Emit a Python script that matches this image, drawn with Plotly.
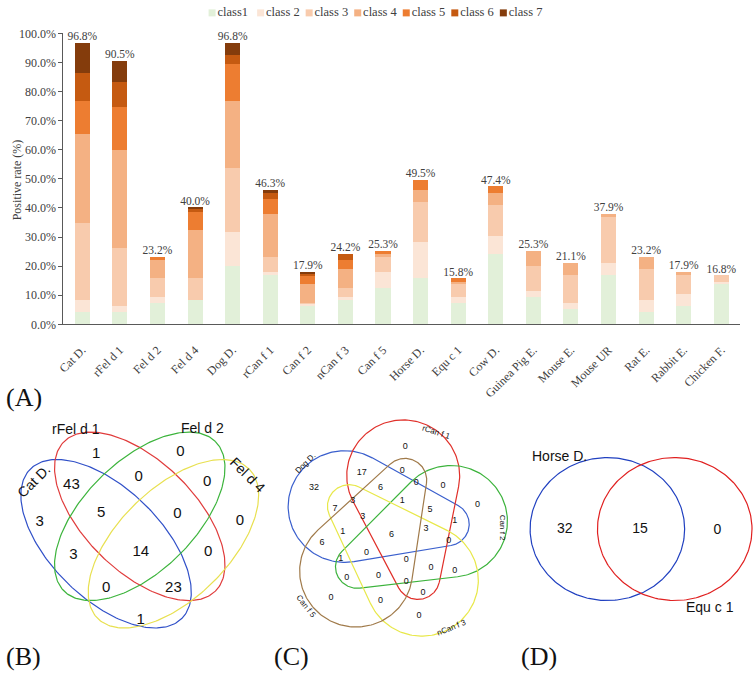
import numpy as np
import plotly.graph_objects as go

# ---------------- data: panel A ----------------
categories = ["Cat D.", "rFel d 1", "Fel d 2", "Fel d 4", "Dog D.", "rCan f 1", "Can f 2",
              "nCan f 3", "Can f 5", "Horse D.", "Equ c 1", "Cow D.", "Guinea Pig E.",
              "Mouse E.", "Mouse UR", "Rat E.", "Rabbit E.", "Chicken F."]
class_names = ["class1", "class 2", "class 3", "class 4", "class 5", "class 6", "class 7"]
class1 = [4.2, 4.2, 7.4, 8.4, 20.0, 17.0, 6.3, 8.4, 12.6, 15.8, 7.4, 24.2, 9.5, 5.3, 16.8, 4.2, 6.3, 13.7]
class2 = [4.2, 2.1, 2.1, 0.0, 11.6, 0.9, 0.7, 1.1, 5.3, 12.6, 2.1, 6.3, 2.1, 2.1, 4.3, 4.2, 4.2, 1.0]
class3 = [26.3, 20.0, 6.3, 7.4, 22.1, 5.3, 0.4, 3.1, 5.3, 13.7, 4.2, 10.6, 8.4, 9.4, 15.7, 10.5, 6.3, 2.1]
class4 = [30.6, 33.7, 6.3, 16.8, 23.1, 14.7, 6.3, 6.3, 1.0, 4.2, 1.0, 4.2, 5.3, 4.3, 1.1, 4.3, 1.1, 0.0]
class5 = [11.5, 14.7, 1.1, 6.0, 12.7, 5.3, 3.1, 3.2, 1.1, 3.2, 1.1, 2.1, 0, 0, 0, 0, 0, 0]
class6 = [9.5, 8.5, 0, 0.9, 3.1, 2.1, 0.6, 2.1, 0, 0, 0, 0, 0, 0, 0, 0, 0, 0]
class7 = [10.5, 7.3, 0, 0.5, 4.2, 1.0, 0.5, 0, 0, 0, 0, 0, 0, 0, 0, 0, 0, 0]
totals = [96.8, 90.5, 23.2, 40.0, 96.8, 46.3, 17.9, 24.2, 25.3, 49.5, 15.8, 47.4, 25.3, 21.1, 37.9, 23.2, 17.9, 16.8]
y_ticks = [0, 10, 20, 30, 40, 50, 60, 70, 80, 90, 100]

# ---------------- data: Venn panels ----------------
venn_b_sets = ["Cat D.", "rFel d 1", "Fel d 2", "Fel d 4"]
venn_b_counts = [1, 0, 43, 0, 0, 3, 5, 0, 0, 3, 14, 0, 0, 23, 1]
venn_c_sets = ["Dog D.", "rCan f 1", "Can f 2", "nCan f 3", "Can f 5"]
venn_c_counts = [0, 17, 0, 32, 6, 0, 0, 0, 3, 7, 1, 5, 3, 1, 3, 1, 6, 6, 0, 1, 0, 0, 0, 0, 0, 0, 0, 0, 0, 0, 0]
venn_d_sets = ["Horse D.", "Equ c 1"]
venn_d_counts = [32, 15, 0]

# ---------------- styling / layout ----------------
W, H = 753, 682
SERIF = "Liberation Serif"
SANS = "Liberation Sans"
bar_colors = ["#e2f0d9", "#fbe5d6", "#f8cbad", "#f4b183", "#ed7d31", "#c55a11", "#843c0c"]
TXT = "#404040"


def fx(px):
    return px / W


def fy(py):
    return 1 - py / H


fig = go.Figure()
series = [class1, class2, class3, class4, class5, class6, class7]
for name, vals, col in zip(class_names, series, bar_colors):
    fig.add_trace(go.Bar(x=categories, y=vals, name=name, marker=dict(color=col, line=dict(width=0)),
                         width=0.4, showlegend=False, xaxis="x", yaxis="y"))
fig.add_trace(go.Scatter(x=categories, y=totals, mode="text", text=[f"{t:.1f}%" for t in totals],
                         textposition="top center", textfont=dict(family=SERIF, size=11.5, color=TXT),
                         showlegend=False, xaxis="x", yaxis="y", cliponaxis=False, hoverinfo="skip"))

# custom legend (pixel overlay axis)
leg_x0, leg_dx, leg_y = 207, 49, 6
leg_xs = [leg_x0 + i * leg_dx for i in range(len(class_names))]
fig.add_trace(go.Scatter(x=leg_xs, y=[leg_y] * len(leg_xs), mode="markers+text", text=class_names,
                         textposition="middle right",
                         marker=dict(symbol="square", size=7, color=bar_colors),
                         textfont=dict(family=SERIF, size=12.5, color=TXT),
                         showlegend=False, xaxis="x2", yaxis="y2", cliponaxis=False, hoverinfo="skip"))


def ellipse(cx, cy, a, b, phi_deg, n=240):
    t = np.linspace(0, 2 * np.pi, n)
    p = np.deg2rad(phi_deg)
    x = cx + a * np.cos(t) * np.cos(p) - b * np.sin(t) * np.sin(p)
    y = cy + a * np.cos(t) * np.sin(p) + b * np.sin(t) * np.cos(p)
    return x, y


def two_circle_hull(c1, r1, c2, r2, n=120):
    """Outline of the convex hull of two circles (a tapered blob)."""
    c1 = np.asarray(c1, float)
    c2 = np.asarray(c2, float)
    d = c2 - c1
    D = np.hypot(*d)
    pe = np.arctan2(d[1], d[0])
    beta = np.arccos((r1 - r2) / D)
    a2 = np.linspace(pe - beta, pe + beta, n)
    a1 = np.linspace(pe + beta, pe + 2 * np.pi - beta, n)
    xs = np.concatenate([c2[0] + r2 * np.cos(a2), c1[0] + r1 * np.cos(a1), [c2[0] + r2 * np.cos(a2[0])]])
    ys = np.concatenate([c2[1] + r2 * np.sin(a2), c1[1] + r1 * np.sin(a1), [c2[1] + r2 * np.sin(a2[0])]])
    return xs, ys


def add_curve(x, y, color, width=1.2):
    fig.add_trace(go.Scatter(x=x, y=y, mode="lines", line=dict(color=color, width=width),
                             showlegend=False, hoverinfo="skip", xaxis="x2", yaxis="y2"))


def add_counts(pos, counts, size):
    fig.add_trace(go.Scatter(x=[p[0] for p in pos], y=[p[1] for p in pos], mode="text",
                             text=[str(c) for c in counts],
                             textfont=dict(family=SANS, size=size, color="#111111"),
                             showlegend=False, hoverinfo="skip", xaxis="x2", yaxis="y2"))


# ---- panel B (4-set Venn) ----
b_colors = ["#3050c8", "#e03c3c", "#3cb43c", "#e8e050"]
b_shape = [(100, 548, 108, 56, 45), (134, 520, 108, 56, 45), (134, 520, 108, 56, -45), (168, 548, 108, 56, -45)]
for (cx, cy, a, b, ph), col in zip(b_shape, b_colors):
    add_curve(*ellipse(cx, cy, a, b, ph), col)
b_pos = [(90, 457), (175, 455), (65, 488), (133, 480), (202, 485), (33, 526), (95, 517), (172, 518),
         (235, 525), (67, 560), (135, 557), (203, 557), (100, 593), (168, 593), (135, 626)]
add_counts(b_pos, venn_b_counts, 15)
b_label_pos = [(27, 484, -45), (70, 431, 0), (197, 430, 0), (243, 478, 45)]

# ---- panel C (5-set Venn) ----
c_colors = ["#3a5fcd", "#e0302a", "#3cb33c", "#e8e84a", "#a07a4a"]
c_center = (392, 535)
for k, col in enumerate(c_colors):
    t1 = np.deg2rad(-154 + 72 * k)
    t2 = np.deg2rad(-7.5 + 72 * k)
    big = (c_center[0] + 57 * np.cos(t1), c_center[1] + 57 * np.sin(t1))
    small = (c_center[0] + 53 * np.cos(t2), c_center[1] + 53 * np.sin(t2))
    add_curve(*two_circle_hull(big, 57, small, 22), col)
c_pos = [(402, 449), (358, 476), (399, 473), (310, 491), (377, 491), (413, 486), (440, 489), (475, 508),
         (349, 504), (331, 512), (399, 504), (427, 513), (359, 520), (452, 525), (423, 533), (339, 536),
         (388, 539), (318, 547), (446, 545), (337, 563), (363, 557), (403, 564), (428, 572), (452, 576),
         (343, 583), (375, 581), (403, 587), (420, 598), (327, 603), (377, 606), (416, 621)]
add_counts(c_pos, venn_c_counts, 9)
c_label_pos = [(301, 466, -45), (434, 434, 18), (501, 532, 90), (449, 633, -22), (302, 612, 52)]

# ---- panel D (2-set Venn) ----
d_colors = ["#2040c0", "#e02020"]
d_shape = [(606, 533, 78, 73, 0), (674, 533, 78, 73, 0)]
for (cx, cy, a, b, ph), col in zip(d_shape, d_colors):
    add_curve(*ellipse(cx, cy, a, b, ph), col)
d_pos = [(563, 533), (639, 533), (717, 534)]
add_counts(d_pos, venn_d_counts, 14)
d_label_pos = [(558, 458, 0), (710, 613, 0)]

annotations = []
for name, (x, y, ang) in zip(venn_b_sets, b_label_pos):
    annotations.append(dict(x=x, y=y, xref="x2", yref="y2", text=name, showarrow=False, textangle=ang,
                            font=dict(family=SANS, size=14, color="#111111")))
for name, (x, y, ang) in zip(venn_c_sets, c_label_pos):
    annotations.append(dict(x=x, y=y, xref="x2", yref="y2", text=name, showarrow=False, textangle=ang,
                            font=dict(family=SANS, size=8, color="#111111")))
for name, (x, y, ang) in zip(venn_d_sets, d_label_pos):
    annotations.append(dict(x=x, y=y, xref="x2", yref="y2", text=name, showarrow=False, textangle=ang,
                            font=dict(family=SANS, size=14, color="#111111")))
for lab, x, y in [("(A)", 1, 399), ("(B)", 1, 663), ("(C)", 272, 663), ("(D)", 521, 663)]:
    annotations.append(dict(x=x, y=y, xref="x2", yref="y2", text=lab, showarrow=False, xanchor="left",
                            xshift=-4, font=dict(family=SERIF, size=26, color="#111111")))
annotations.append(dict(x=10, y=176, xref="x2", yref="y2", text="Positive rate (%)", showarrow=False,
                        textangle=-90, font=dict(family=SERIF, size=12, color=TXT)))

fig.update_layout(
    width=W, height=H, margin=dict(l=0, r=0, t=0, b=0),
    paper_bgcolor="white", plot_bgcolor="rgba(0,0,0,0)", barmode="stack",
    xaxis=dict(domain=[fx(57), fx(740)], range=[-0.5, 17.5], tickangle=-45, showline=True,
               linecolor="#595959", linewidth=1, ticks="", showgrid=False, zeroline=False,
               tickfont=dict(family=SERIF, size=12, color=TXT), ticklabelstandoff=13, anchor="y",
               fixedrange=True),
    yaxis=dict(domain=[fy(324), fy(27)], range=[0, 100], tickvals=y_ticks,
               ticktext=[f"{v:.1f}%" for v in y_ticks], showline=True, linecolor="#595959", linewidth=1,
               ticks="outside", ticklen=4, tickcolor="#595959", showgrid=False, zeroline=False,
               tickfont=dict(family=SERIF, size=12, color=TXT), anchor="x", fixedrange=True),
    xaxis2=dict(domain=[0, 1], range=[0, W], visible=False, anchor="y2", fixedrange=True),
    yaxis2=dict(domain=[0, 1], range=[H, 0], visible=False, anchor="x2", fixedrange=True),
    annotations=annotations,
    showlegend=False,
)

fig.write_html("out.html", config={"displayModeBar": False},
               post_script="document.body.style.margin='0px';")
